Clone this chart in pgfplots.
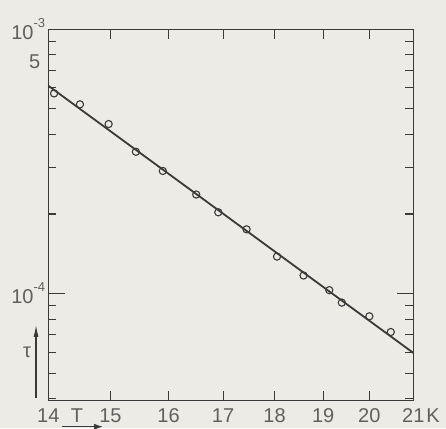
\documentclass[border=0pt]{standalone}
\usepackage{fontspec}
\setmainfont{Liberation Sans}
\usepackage{pgfplots}
\pgfplotsset{compat=1.18}
\usetikzlibrary{arrows.meta}
\definecolor{bg}{HTML}{EDEBE5}
\definecolor{ink}{HTML}{3A3A3A}
\definecolor{txt}{HTML}{606060}
\newcommand\tenpow[1]{10\raisebox{12pt}{\fontsize{13}{13}\selectfont -#1}}
\begin{document}
\begin{tikzpicture}
\fill[bg] (-48.3pt,-27.3pt) rectangle (397.7pt,400.7pt);
\begin{axis}[
  name=ax, at={(0,0)}, anchor=south west,
  scale only axis, width=365pt, height=371.4pt,
  xmode=log, ymode=log,
  xmin=14, xmax=21, ymin=3.93e-5, ymax=1e-3,
  axis line style={ink, line width=1.2pt},
  every tick/.style={ink, line width=1.1pt},
  tick align=inside,
  xtick={14,15,16,17,18,19,20,21},
  xticklabels={14,15,16,17,18,19,20,21\rlap{\hspace{2pt}K}},
  log ticks with fixed point,
  ytick={1e-4,1e-3},
  yticklabels={\tenpow{4},\tenpow{3}},
  minor ytick={4e-5,5e-5,6e-5,7e-5,8e-5,9e-5,2e-4,3e-4,4e-4,5e-4,6e-4,7e-4,8e-4,9e-4},
  major tick length=17pt,
  minor tick length=8pt,
  xtick style={/pgfplots/major tick length=10pt},
  xticklabel style={font=\fontsize{20}{22}\selectfont, text=txt, anchor=north, inner sep=0pt, yshift=-7.5pt},
  yticklabel style={font=\fontsize{20}{22}\selectfont, text=txt, anchor=east, inner sep=0pt, xshift=-3pt},
  clip=false,
]
\addplot[ink, line width=1.8pt, no marks] coordinates {(14,6.115e-4) (21,5.96e-5)};
\addplot[only marks, mark=o, mark size=3.6pt, mark options={ink, line width=1.1pt, fill=bg}] coordinates {
(14.09,5.72e-4) (14.50,5.20e-4) (14.97,4.38e-4) (15.43,3.44e-4) (15.90,2.91e-4)
(16.50,2.37e-4) (16.91,2.03e-4) (17.45,1.75e-4) (18.05,1.38e-4) (18.59,1.17e-4)
(19.13,1.03e-4) (19.40,9.24e-5) (20.00,8.20e-5) (20.48,7.15e-5)};
\node[anchor=south east, inner sep=0pt, text=txt, font=\fontsize{20}{22}\selectfont] at ([xshift=-8pt,yshift=1pt]axis cs:14,7e-4) {5};
\node[anchor=north, inner sep=0pt, text=txt, font=\fontsize{20}{22}\selectfont] at ([yshift=-7.5pt]rel axis cs:0.0786,0) {T};
\draw[ink, line width=1.1pt, -{Latex[length=9pt,width=6pt]}] ([yshift=-26pt]rel axis cs:0.037,0) -- ([yshift=-26pt]rel axis cs:0.15,0);
\node[text=txt, inner sep=0pt, font=\fontsize{20}{22}\selectfont] at ([xshift=-21.3pt]rel axis cs:0,0.131) {τ};
\draw[ink, line width=1.1pt, -{Latex[length=12pt,width=5pt]}] ([xshift=-12.3pt]rel axis cs:0,0.007) -- ([xshift=-12.3pt]rel axis cs:0,0.204);
\end{axis}
\pgfresetboundingbox
\path[use as bounding box] (-48.3pt,-27.3pt) rectangle (397.7pt,400.7pt);
\end{tikzpicture}
\end{document}
